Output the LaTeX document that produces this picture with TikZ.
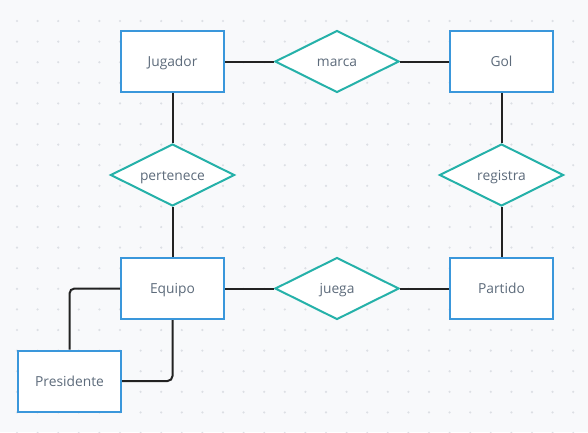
\documentclass[tikz,border=0pt]{standalone}
\usepackage{fontspec}
\setmainfont{Open Sans}
\usetikzlibrary{shapes.geometric}
\definecolor{cEntidad}{HTML}{3A97DB}
\definecolor{cRelacion}{HTML}{25B1A9}
\definecolor{cTexto}{HTML}{5D6B7B}
\definecolor{cFondo}{HTML}{F8F9FB}
\definecolor{cPunto}{HTML}{DCDFE4}
\definecolor{cLinea}{HTML}{222222}
\begin{document}
\begin{tikzpicture}[x=1pt,y=-1pt,font=\fontsize{13.8}{16}\selectfont,
    entidad/.style={draw=cEntidad,fill=white,line width=2pt,text=cTexto,
        text height=12pt,text depth=2pt,
        minimum width=103pt,minimum height=61pt,inner sep=0pt},
    relacion/.style={diamond,aspect=2,draw=cRelacion,fill=white,line width=2pt,
        text=cTexto,text height=12pt,text depth=2pt,
        minimum width=124pt,minimum height=62pt,inner sep=0pt},
    enlace/.style={draw=cLinea,line width=2pt}]
    % fondo con puntos
    \fill[cFondo] (0,0) rectangle (588,432);
    \useasboundingbox (0,0) rectangle (588,432);
    \foreach \i in {0,...,27}
        \foreach \j in {0,...,20}
            \fill[cPunto] (17+20.6*\i,21+20.6*\j) circle(1.2pt);
    % entidades
    \node[entidad] (jugador) at (172.5,61.5) {Jugador};
    \node[entidad] (gol) at (501.5,61.5) {Gol};
    \node[entidad] (equipo) at (172.5,288.5) {Equipo};
    \node[entidad] (partido) at (501.5,288.5) {Partido};
    \node[entidad] (presidente) at (69.5,381) {Presidente};
    % relaciones
    \node[relacion] (marca) at (337,61.5) {marca};
    \node[relacion] (pertenece) at (172.5,175) {pertenece};
    \node[relacion] (registra) at (501.5,175) {registra};
    \node[relacion] (juega) at (337,288.5) {juega};
    % enlaces
    \draw[enlace] (jugador) -- (marca);
    \draw[enlace] (marca) -- (gol);
    \draw[enlace] (jugador) -- (pertenece);
    \draw[enlace] (pertenece) -- (equipo);
    \draw[enlace] (gol) -- (registra);
    \draw[enlace] (registra) -- (partido);
    \draw[enlace] (equipo) -- (juega);
    \draw[enlace] (juega) -- (partido);
    \draw[enlace,rounded corners=5pt] (equipo.west) -| (presidente.north);
    \draw[enlace,rounded corners=5pt] (equipo.south) |- (presidente.east);
\end{tikzpicture}
\end{document}
